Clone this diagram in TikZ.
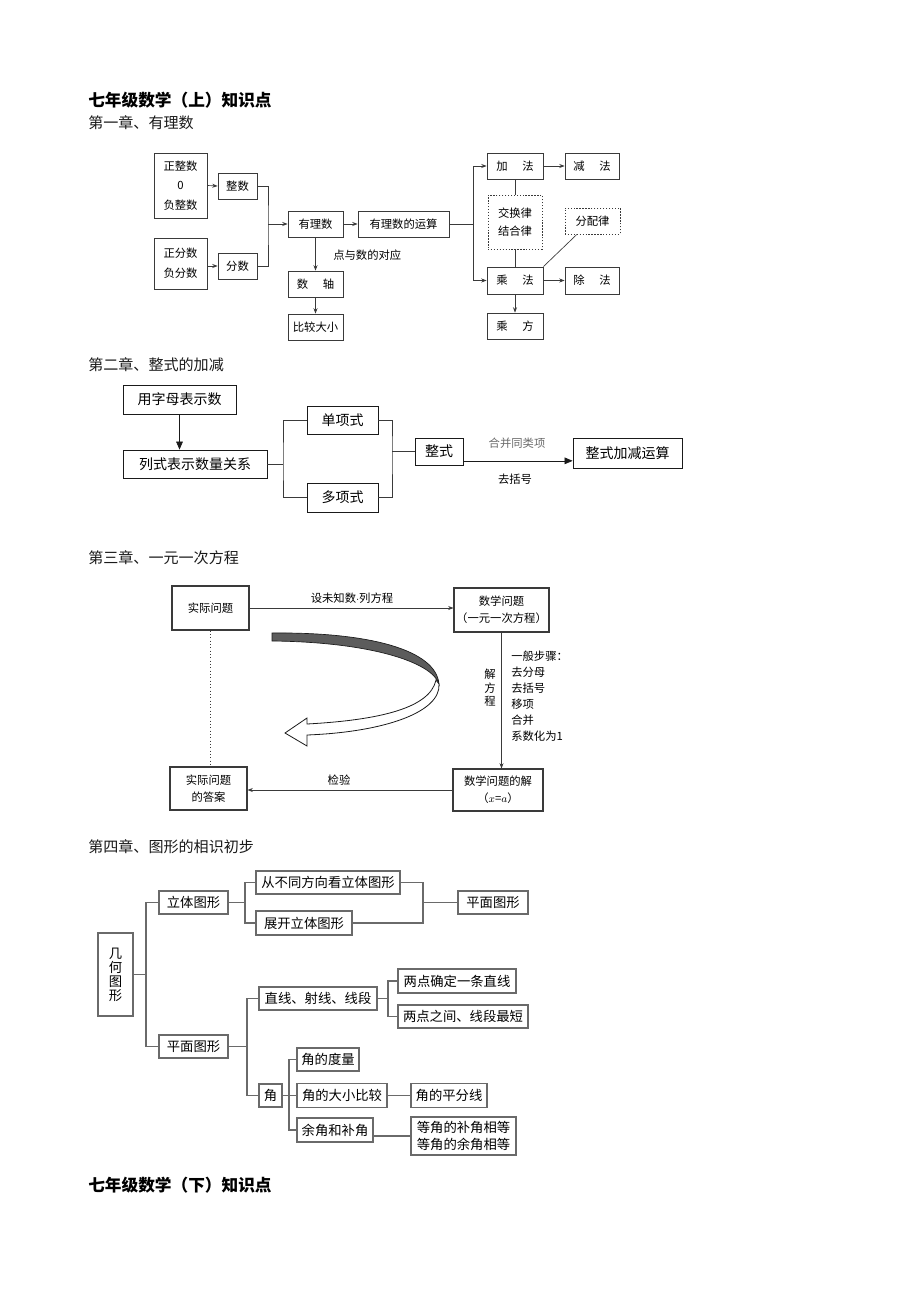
\documentclass[tikz,border=0pt]{standalone}
\usepackage{fontspec}
\setmainfont{Noto Sans CJK SC}
\usetikzlibrary{positioning,arrows.meta,calc}
\definecolor{ink}{HTML}{1a1a1a}
\definecolor{frame}{HTML}{3a3a3a}
\definecolor{soft}{HTML}{6a6a6a}
\definecolor{ribbon}{HTML}{5c5c5c}

\begin{document}
\begin{tikzpicture}[x=0.75pt,y=-0.75pt,
  wh/.style 2 args={minimum width=#1*0.75pt,minimum height=#2*0.75pt},
  box/.style={draw=frame,line width=0.6pt,inner sep=0pt,align=center,fill=white},
  onebox/.style={box,font=\fontsize{8.5}{13.5}\selectfont},
  dotbox/.style={onebox,dash pattern=on 1pt off 1.2pt},
  twobox/.style={box,draw=ink,font=\fontsize{10.5}{13}\selectfont},
  threebox/.style={box,line width=0.8pt,font=\fontsize{8.5}{13}\selectfont},
  fourbox/.style={box,draw=soft,line width=0.9pt,font=\fontsize{10}{12.5}\selectfont},
  title/.style={anchor=west,inner sep=0pt,font=\fontsize{12.5}{15}\selectfont\bfseries},
  chap/.style={anchor=west,inner sep=0pt,text=ink,font=\fontsize{11.3}{14}\selectfont},
  note/.style={inner sep=0pt,font=\fontsize{8.5}{12}\selectfont},
  arr/.style={-{Stealth[length=4pt,width=3pt]},draw=frame,line width=0.5pt},
  tri/.style={-{Triangle[length=6pt,width=5pt]},draw=ink,line width=0.5pt},
  link/.style={draw=frame,line width=0.5pt},
  tree/.style={draw=soft,line width=0.8pt}]
  \path[fill=white] (0,0) rectangle (920,1302);
  \useasboundingbox (0,0) rectangle (920,1302);

  \node[title] (top) at (88,100) {七年级数学（上）知识点};

  % chapter 1
  \node[chap] (ch1) at (88,123) {第一章、有理数};
  \node[onebox,wh={53}{65},font=\fontsize{8.5}{14.5}\selectfont] (zzs) at (180.5,185.5) {正整数\\0\\负整数};
  \node[onebox,wh={53}{51},font=\fontsize{8.5}{15}\selectfont] (zfs) at (180.5,263.5) {正分数\\负分数};
  \node[onebox,wh={39}{26}] (zheng) at (237.5,186) {整数};
  \node[onebox,wh={39}{26}] (fen) at (237.5,266) {分数};
  \node[onebox,wh={55}{26}] (yl) at (315.5,224) {有理数};
  \node[onebox,wh={91}{26}] (ys) at (403.5,224) {有理数的运算};
  \node[onebox,wh={55}{26}] (zhou) at (315.5,284) {数\hspace{1.3em}轴};
  \node[onebox,wh={55}{26}] (bj) at (315.5,327) {比较大小};
  \node[note,anchor=west] (dsd) at (333,255) {点与数的对应};
  \node[onebox,wh={56}{26}] (jia) at (515,166) {加\hspace{1.3em}法};
  \node[onebox,wh={54}{26}] (jian) at (592,166) {减\hspace{1.3em}法};
  \node[dotbox,wh={54}{54}] (jl) at (515,222) {交换律\\结合律};
  \node[dotbox,wh={55}{26}] (fp) at (592.5,221) {分配律};
  \node[onebox,wh={56}{27}] (cheng) at (515,280.5) {乘\hspace{1.3em}法};
  \node[onebox,wh={54}{27}] (chu) at (592,280.5) {除\hspace{1.3em}法};
  \node[onebox,wh={56}{26}] (cf) at (515,326) {乘\hspace{1.3em}方};
  \coordinate (ja) at (268,224);
  \coordinate (jb) at (473,224);
  \draw[arr] (zzs.east) -- (zheng.west);
  \draw[arr] (zfs.east |- fen) -- (fen.west);
  \draw[link] (zheng.east) -| (ja) |- (fen.east);
  \draw[arr] (ja) -- (yl.west);
  \draw[arr] (yl) -- (ys);
  \draw[link] (ys.east) -- (jb);
  \draw[arr] (jb) |- (jia.west);
  \draw[arr] (jb) |- (cheng.west);
  \draw[arr] (jia) -- (jian);
  \draw[arr] (cheng) -- (chu);
  \draw[link] (jia) -- (jl);
  \draw[link] (jl) -- (cheng);
  \draw[link] (cheng.north east) -- ($(fp.south west)!0.22!(fp.south east)$);
  \draw[arr] (cheng) -- (cf);
  \draw[arr] (yl) -- (zhou);
  \draw[arr] (zhou) -- (bj);

  % chapter 2
  \node[chap] (ch2) at (88,365) {第二章、整式的加减};
  \node[twobox,wh={113}{29}] (zm) at (179.5,399.5) {用字母表示数};
  \node[twobox,wh={144}{28}] (lsh) at (195,464) {列式表示数量关系};
  \node[twobox,wh={71}{28}] (dan) at (342.5,420) {单项式};
  \node[twobox,wh={71}{29}] (duo) at (342.5,497.5) {多项式};
  \node[twobox,wh={48}{27}] (zs) at (439,451.5) {整式};
  \node[twobox,wh={109}{30}] (zsys) at (627.5,453) {整式加减运算};
  \node[note,text=soft] (hb) at (517,443) {合并同类项};
  \node[note] (qk) at (515,479) {去括号};
  \coordinate (jc) at (283,464);
  \coordinate (jd) at (392,451.5);
  \draw[tri] (zm) -- (zm |- lsh.north);
  \draw[link] (lsh) -- (jc);
  \draw[link] (dan.west) -| (jc) |- (duo.west);
  \draw[link] (dan.east) -| (jd) |- (duo.east);
  \draw[link] (jd) -- (zs);
  \draw[tri] ([yshift=-7pt]zs.east) -- ([yshift=-7pt]zs.east -| zsys.west);

  % chapter 3
  \node[chap] (ch3) at (88,558) {第三章、一元一次方程};
  \node[threebox,wh={77}{44}] (sj) at (210.5,608) {实际问题};
  \node[threebox,wh={95}{44}] (sx) at (501.5,610) {数学问题\\（一元一次方程）};
  \node[threebox,wh={90}{42}] (jie) at (498,790) {数学问题的解\\（$x$=$a$）};
  \node[threebox,wh={77}{43}] (da) at (208.5,788.5) {实际问题\\的答案};
  \node[note] (sw) at (352,598) {设未知数{$\cdot$}列方程};
  \node[note] (jy) at (339,780) {检验};
  \node[note,align=center,font=\fontsize{8.5}{10}\selectfont] (jfc) at (490,688) {解\\方\\程};
  \node[note,align=left,anchor=north west] (bz) at (511,651) {一般步骤：\\去分母\\去括号\\移项\\合并\\系数化为1};
  \draw[arr] (sj.east) -- (sj.east -| sx.west);
  \draw[arr] (sx) -- (sx |- jie.north);
  \draw[arr] (jie.west) -- (jie.west -| da.east);
  \draw[link,dotted] (sj) -- (sj |- da.north);
  \filldraw[fill=ribbon,draw=ink,line width=0.5pt]
    (272,633) .. controls (370,632) and (436,650) .. (439,684)
    .. controls (432,662) and (370,642) .. (272,641) -- cycle;
  \filldraw[fill=white,draw=ink,line width=0.6pt]
    (436,680) .. controls (430,708) and (380,720) .. (307,724)
    -- (307,718) -- (285,733) -- (307,746) -- (307,735)
    .. controls (385,732) and (441,712) .. (439,684) -- cycle;

  % chapter 4
  \node[chap] (ch4) at (88,847) {第四章、图形的相识初步};
  \node[fourbox,wh={35}{83},font=\fontsize{10}{10.5}\selectfont] (jh) at (115.5,974.5) {几\\何\\图\\形};
  \node[fourbox,wh={69}{23}] (lt) at (193.5,902.5) {立体图形};
  \node[fourbox,wh={69}{23}] (pm) at (193.5,1046.5) {平面图形};
  \node[fourbox,wh={144}{23}] (cbt) at (328,882.5) {从不同方向看立体图形};
  \node[fourbox,wh={96}{24}] (zk) at (304,923) {展开立体图形};
  \node[fourbox,wh={70}{23}] (pmr) at (493,902.5) {平面图形};
  \node[fourbox,wh={118}{23}] (zx) at (318,998.5) {直线、射线、线段};
  \node[fourbox,wh={23}{23}] (jiao) at (270.5,1095.5) {角};
  \node[fourbox,wh={118}{24}] (ld) at (457,981) {两点确定一条直线};
  \node[fourbox,wh={130}{23}] (lz) at (463,1016.5) {两点之间、线段最短};
  \node[fourbox,wh={62}{23}] (dl) at (328,1059.5) {角的度量};
  \node[fourbox,wh={90}{24}] (dx) at (342,1095.5) {角的大小比较};
  \node[fourbox,wh={76}{24}] (yb) at (335,1130) {余角和补角};
  \node[fourbox,wh={76}{24}] (pfx) at (449,1095.5) {角的平分线};
  \node[fourbox,wh={105}{38}] (dj) at (463.5,1136) {等角的补角相等\\等角的余角相等};
  \coordinate (k1) at (146,974.5);
  \coordinate (k2) at (245,902.5);
  \coordinate (k3) at (423,902.5);
  \coordinate (k4) at (247,1046.5);
  \coordinate (k5) at (388,998.5);
  \coordinate (k6) at (289,1095.5);
  \draw[tree] (jh) -- (k1);
  \draw[tree] (lt.west) -| (k1) |- (pm.west);
  \draw[tree] (lt) -- (k2);
  \draw[tree] (cbt.west) -| (k2) |- (zk.west);
  \draw[tree] (cbt.east) -| (k3) |- (zk.east);
  \draw[tree] (k3) -- (pmr);
  \draw[tree] (pm) -- (k4);
  \draw[tree] (zx.west) -| (k4) |- (jiao.west);
  \draw[tree] (zx) -- (k5);
  \draw[tree] (ld.west) -| (k5) |- (lz.west);
  \draw[tree] (jiao) -- (k6);
  \draw[tree] (dl.west) -| (k6) |- (yb.west);
  \draw[tree] (k6) -- (dx);
  \draw[tree] (dx) -- (pfx);
  \draw[tree] (yb.east |- dj) -- (dj);

  \node[title] (bot) at (88,1185) {七年级数学（下）知识点};
\end{tikzpicture}
\end{document}
